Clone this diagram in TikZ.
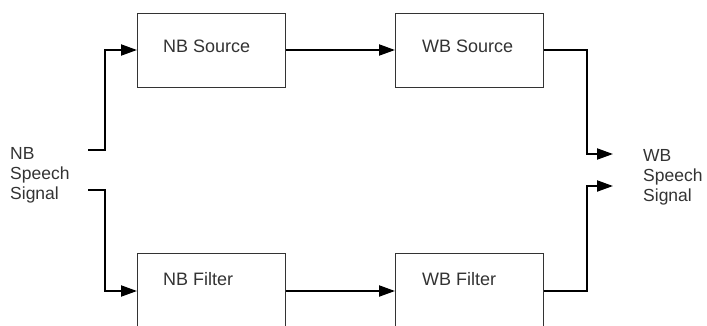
\documentclass[tikz,border=0pt]{standalone}
\usepackage{fontspec}
\setmainfont{Liberation Sans}
\usetikzlibrary{arrows.meta}
\definecolor{txt}{HTML}{333333}
\definecolor{boxline}{HTML}{333333}
\tikzset{
  blockbox/.style={draw=boxline, line width=1.3pt, fill=white, minimum width=148pt, minimum height=74pt, inner sep=0pt, anchor=north west},
  blocklabel/.style={text=txt, font=\fontsize{18}{20}\selectfont, inner sep=0pt, anchor=base west},
  sidelabel/.style={text=txt, font=\fontsize{17.5}{20}\selectfont, inner sep=0pt, anchor=west, align=left},
  conn/.style={line width=2pt, -{Triangle[length=16pt,width=11pt]}},
  wire/.style={line width=2pt}
}
\begin{document}
\begin{tikzpicture}[x=1pt,y=-1pt]
\useasboundingbox (0,0) rectangle (707,325);
\clip (0,0) rectangle (707,325);
% boxes
\node[blockbox] (nbs) at (137,13) {};
\node[blockbox] (wbs) at (395,13) {};
\node[blockbox] (nbf) at (137,253) {};
\node[blockbox] (wbf) at (395,253) {};
% box labels
\node[blocklabel] (nbst) at (163,52) {NB Source};
\node[blocklabel] (wbst) at (422,52) {WB Source};
\node[blocklabel] (nbft) at (163,285) {NB Filter};
\node[blocklabel] (wbft) at (422,285) {WB Filter};
% side labels
\node[sidelabel] (inp) at (10,175) {NB\\Speech\\Signal};
\node[sidelabel] (outp) at (643,177) {WB\\Speech\\Signal};
% connector end points
\coordinate (in1) at (88,150);
\coordinate (in2) at (88,190);
\coordinate (out1) at (613,154);
\coordinate (out2) at (613,186);
% connectors
\draw[conn] (in1) -| (105,50) -- (nbs.west |- 0,50);
\draw[conn] (in2) -| (105,291) -- (nbf.west |- 0,291);
\draw[conn] (nbs.east |- 0,50) -- (wbs.west |- 0,50);
\draw[conn] (nbf.east |- 0,291) -- (wbf.west |- 0,291);
\draw[conn] (wbs.east |- 0,50) -| (587,154) -- (out1);
\draw[conn] (wbf.east |- 0,291) -| (587,186) -- (out2);
\end{tikzpicture}
\end{document}
